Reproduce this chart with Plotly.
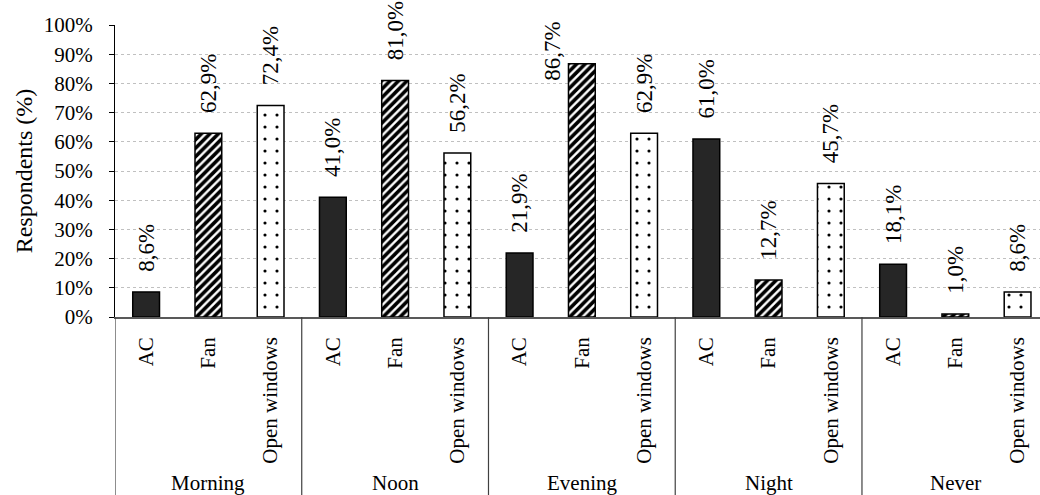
import plotly.graph_objects as go

groups = ["Morning", "Noon", "Evening", "Night", "Never"]
methods = ["AC", "Fan", "Open windows"]
ac_vals = [8.6, 41.0, 21.9, 61.0, 18.1]
fan_vals = [62.9, 81.0, 86.7, 12.7, 1.0]
win_vals = [72.4, 56.2, 62.9, 45.7, 8.6]
y_ticks = [0, 10, 20, 30, 40, 50, 60, 70, 80, 90, 100]
# labels that sit beside their bar (no room above the bar)
side_labels = ["Evening|Fan"]

FONT = "Liberation Serif, Times New Roman, serif"
cats = [f"{g}|{m}" for g in groups for m in methods]

def fmt(v):
    return f"{v:.1f}".replace(".", ",") + "%"

series = [
    ("AC", ac_vals, dict(color="#262626", line=dict(color="black", width=1.5))),
    ("Fan", fan_vals, dict(color="white", line=dict(color="black", width=1.5),
                           pattern=dict(shape="/", fgcolor="#000000", bgcolor="white", fgopacity=1,
                                        size=6, solidity=0.6, fillmode="replace"))),
    ("Open windows", win_vals, dict(color="white", line=dict(color="black", width=1.5),
                                    pattern=dict(shape=".", fgcolor="#000000", bgcolor="white", fgopacity=1,
                                                 size=12, solidity=0.055, fillmode="replace"))),
]

fig = go.Figure()
annotations = []
for name, vals, marker in series:
    xs = [f"{g}|{name}" for g in groups]
    texts = []
    for x, v in zip(xs, vals):
        if x in side_labels:
            texts.append("")
            annotations.append(dict(text=fmt(v), xref="x", yref="y", x=x, y=v, textangle=-90,
                                    showarrow=False, xanchor="center", yanchor="middle",
                                    xshift=-29, yshift=13,
                                    font=dict(family=FONT, size=23, color="black")))
        else:
            texts.append("\u00a0\u00a0\u00a0" + fmt(v))
    fig.add_trace(go.Bar(
        x=xs, y=vals, name=name, marker=marker,
        text=texts, textposition="outside", textangle=-90,
        constraintext="none", cliponaxis=False,
        textfont=dict(family=FONT, size=23, color="black"),
    ))

shapes = []
for i in range(len(groups)):
    xpos = i * len(methods) - 0.5
    shapes.append(dict(type="line", xref="x", yref="paper", x0=xpos, x1=xpos, y0=0, y1=-0.62,
                       line=dict(color="#404040", width=1.2)))
for i, g in enumerate(groups):
    annotations.append(dict(text=g, xref="x", yref="paper", x=i * len(methods) + 1, y=-0.568,
                            showarrow=False, yanchor="middle", xanchor="center",
                            font=dict(family=FONT, size=21, color="black")))
annotations.append(dict(text="Respondents (%)", xref="paper", yref="paper", x=-0.098, y=0.5,
                        textangle=-90, showarrow=False, xanchor="center", yanchor="middle",
                        font=dict(family=FONT, size=24, color="black")))

fig.update_layout(
    width=1040, height=495,
    margin=dict(l=115, r=0, t=25, b=178),
    plot_bgcolor="white", paper_bgcolor="white",
    barmode="overlay", bargap=0.57,
    showlegend=False,
    shapes=shapes, annotations=annotations,
    font=dict(family=FONT, size=21, color="black"),
    xaxis=dict(type="category", categoryorder="array", categoryarray=cats,
               tickvals=cats, ticktext=[c.split("|")[1] for c in cats],
               tickangle=-90, ticks="", ticklabelstandoff=10, automargin=False,
               range=[-0.5, 14.36], showline=True, linecolor="#595959", linewidth=1.5,
               showgrid=False, tickfont=dict(family=FONT, size=21, color="black")),
    yaxis=dict(range=[0, 100], tickvals=y_ticks, ticktext=[f"{t}%" for t in y_ticks],
               showline=True, linecolor="black", linewidth=1.2, ticks="outside", ticklen=5,
               tickcolor="black", ticklabelstandoff=12, zeroline=False, automargin=False,
               showgrid=True, gridcolor="#c0c0c0", griddash="dot", gridwidth=1,
               tickfont=dict(family=FONT, size=21, color="black")),
)

fig.write_html("out.html", config={"displayModeBar": False},
               post_script="document.body.style.margin='0';")
